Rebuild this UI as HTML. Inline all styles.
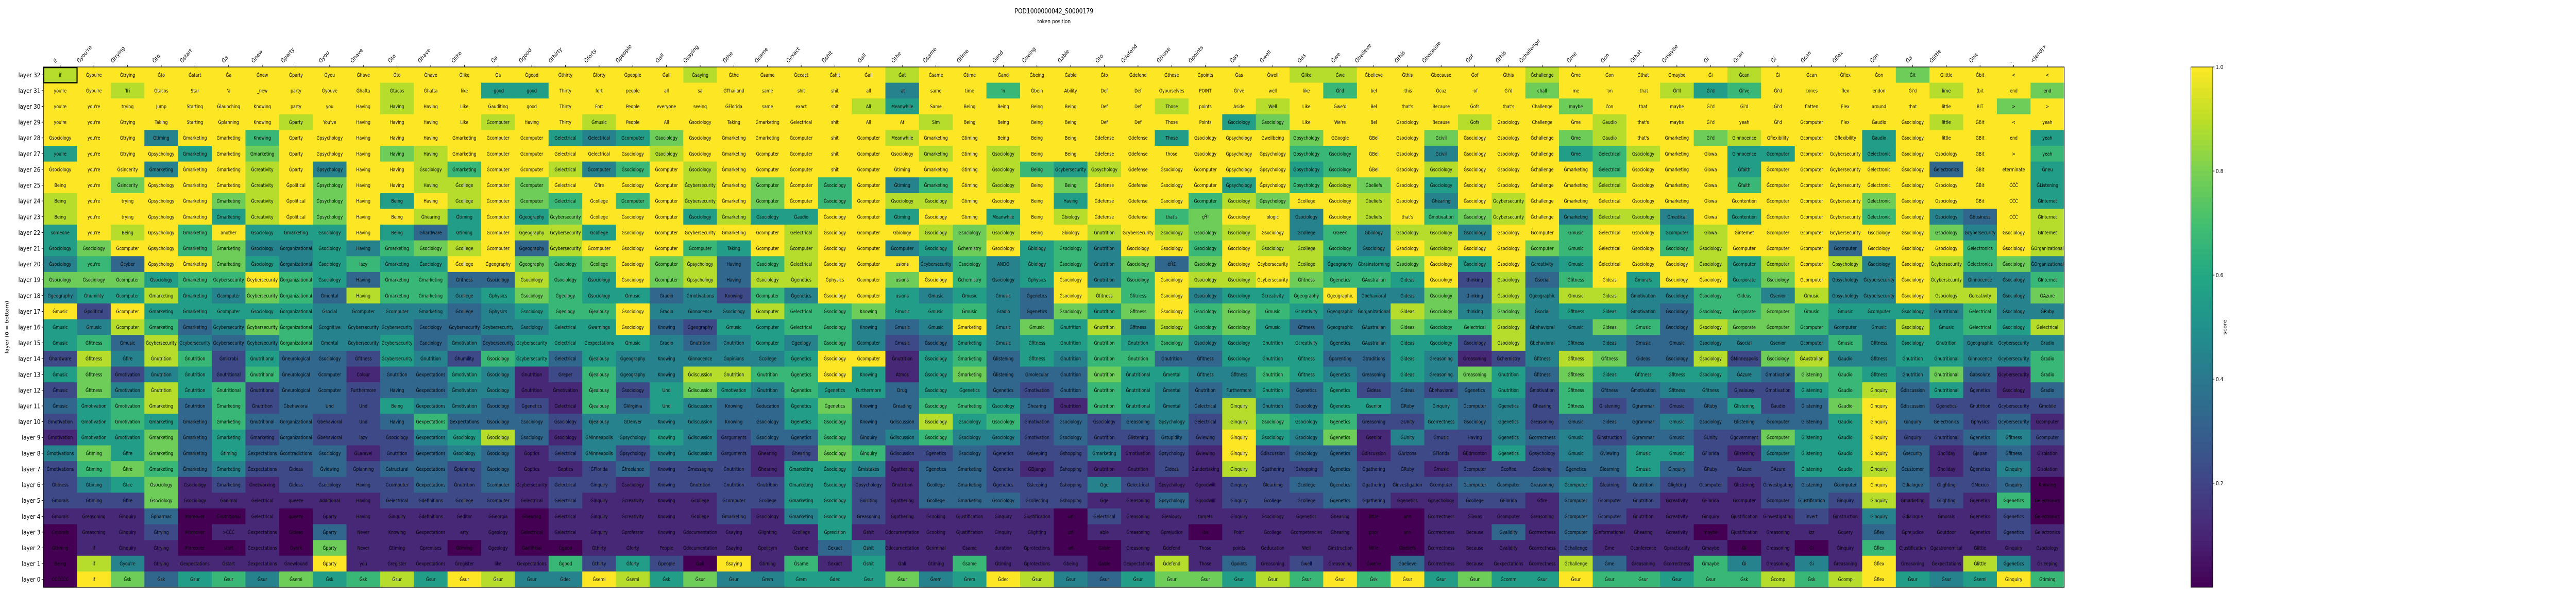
<!DOCTYPE html>
<html><head><meta charset="utf-8"><style>
html,body{margin:0;padding:0;background:#fff;overflow:hidden;width:100vw;height:100vh;}
svg{display:block;width:100vw;height:100vh;font-family:"DejaVu Sans","Liberation Sans",sans-serif;}
</style></head><body>
<svg id="chart" viewBox="0 0 6000 1155" preserveAspectRatio="none" xmlns="http://www.w3.org/2000/svg">
<rect width="6000" height="1155" fill="#fff"/>
<text x="2455" y="26" text-anchor="middle" font-size="13">POD1000000042_S0000179</text>
<text x="2455" y="45" text-anchor="middle" font-size="11">token position</text>
<text x="20" y="635" text-anchor="middle" font-size="11" transform="rotate(-90 20 635)">layer (0 = bottom)</text>
<g id="cells"></g>
<g id="xticks"></g>
<g id="yticks"></g>
<g id="cbar"></g>
</svg>
<script>
const xLabels = ["if","Ġyou're","Ġtrying","Ġto","Ġstart","Ġa","Ġnew","Ġparty","Ġyou","Ġhave","Ġto","Ġhave","Ġlike","Ġa","Ġgood","Ġthirty","Ġforty","Ġpeople","Ġall","Ġsaying","Ġthe","Ġsame","Ġexact","Ġshit","Ġall","Ġthe","Ġsame","Ġtime","Ġand","Ġbeing","Ġable","Ġto","Ġdefend","Ġthose","Ġpoints","Ġas","Ġwell","Ġas","Ġwe","Ġbelieve","Ġthis","Ġbecause","Ġof","Ġthis","Ġchallenge","Ġme","Ġon","Ġthat","Ġmaybe","Ġi","Ġcan","Ġi","Ġcan","Ġflex","Ġon","Ġa","Ġlittle","Ġbit",".","<|end|>"];
const layerLabels = [];
for (let l = 32; l >= 0; l--) layerLabels.push("layer " + l);
const colorbarTicks = [0.2, 0.4, 0.6, 0.8, 1.0];
const highlightCell = [0, 0];
const cellTokens = [
"if|you're|you're|you're|Ġsociology|you're|Ġsociology|Being|Being|Being|someone|Ġsociology|Ġsociology|Ġsociology|Ġgeography|Ġmusic|Ġmusic|Ġmusic|Ġhardware|Ġmusic|Ġmusic|Ġmusic|Ġmotivation|Ġmotivation|Ġmotivations|Ġmotivations|Ġfitness|Ġmorals|Ġmorals|Ġmorals|Ġtiming|Being|ĊĊĊĊĊĊ",
"Ġyou're|Ġyou're|you're|you're|you're|you're|you're|you're|you're|you're|you're|Ġsociology|you're|Ġsociology|Ġhumility|Ġpolitical|Ġmusic|Ġfitness|Ġfitness|Ġfitness|Ġfitness|Ġmotivation|Ġmotivation|Ġmotivation|Ġtiming|Ġtiming|Ġtiming|Ġtiming|Ġreasoning|Ġreasoning|if|if|if",
"Ġtrying|Tri|trying|Ġtrying|Ġtrying|Ġtrying|Ġsincerity|Ġsincerity|trying|trying|Being|Ġcomputer|Ġcyber|Ġcomputer|Ġcomputer|Ġcomputer|Ġcomputer|Ġmusic|Ġfire|Ġmotivation|Ġmotivation|Ġmotivation|Ġmotivation|Ġmotivation|Ġfire|Ġfire|Ġfire|Ġfire|Ġinquiry|Ġinquiry|Ġinquiry|Ġyou're|Ġsk",
"Ġto|Ġtacos|Jump|Taking|Ġtiming|Ġpsychology|Ġmarketing|Ġpsychology|Ġpsychology|Ġpsychology|Ġpsychology|Ġpsychology|Ġpsychology|Ġsociology|Ġmarketing|Ġmarketing|Ġmarketing|Ġcybersecurity|Ġnutrition|Ġnutrition|Ġnutrition|Ġmarketing|Ġmarketing|Ġmarketing|Ġmarketing|Ġmarketing|Ġsociology|Ġsociology|Ġpharmac|Ġtrying|Ġtrying|Ġtrying|Ġsk",
"Ġstart|Star|Starting|Starting|Ġmarketing|Ġmarketing|Ġmarketing|Ġmarketing|Ġmarketing|Ġmarketing|Ġmarketing|Ġmarketing|Ġmarketing|Ġmarketing|Ġmarketing|Ġmarketing|Ġmarketing|Ġcybersecurity|Ġnutrition|Ġnutrition|Ġnutrition|Ġnutrition|Ġmarketing|Ġmarketing|Ġmarketing|Ġmarketing|Ġsociology|Ġsociology|Moreover|Moreover|Moreover|Ġexpectations|Ġsur",
"Ġa|'a|Ġlaunching|Ġplanning|Ġmarketing|Ġmarketing|Ġmarketing|Ġmarketing|Ġmarketing|Ġmarketing|another|Ġmarketing|Ġmarketing|Ġcybersecurity|Ġcomputer|Ġcomputer|Ġcybersecurity|Ġcybersecurity|Ġmicrobi|Ġnutritional|Ġnutritional|Ġmarketing|Ġmarketing|Ġmarketing|Ġtiming|Ġmarketing|Ġmarketing|Ġanimal|Ġnutritional|>ĊĊĊ|start|Ġstart|Ġsur",
"Ġnew|_new|Knowing|Knowing|Knowing|Ġmarketing|Ġcreativity|Ġcreativity|Ġcreativity|Ġcreativity|Ġsociology|Ġsociology|Ġsociology|Ġcybersecurity|Ġcybersecurity|Ġsociology|Ġcybersecurity|Ġcybersecurity|Ġnutritional|Ġnutritional|Ġnutritional|Ġnutrition|Ġnutritional|Ġmarketing|Ġexpectations|Ġexpectations|Ġnetworking|Ġelectrical|Ġelectrical|Ġexpectations|Ġexpectations|Ġexpectations|Ġsur",
"Ġparty|party|party|Ġparty|Ġparty|Ġparty|Ġparty|Ġpolitical|Ġpolitical|Ġpolitical|Ġmarketing|Ġorganizational|Ġorganizational|Ġorganizational|Ġorganizational|Ġorganizational|Ġorganizational|Ġorganizational|Ġneurological|Ġneurological|Ġneurological|Ġbehavioral|Ġorganizational|Ġorganizational|Ġcontradictions|Ġideas|Ġideas|queeze|queeze|Ġideas|Ġyork|Ġnewfound|Ġsemi",
"Ġyou|Ġyouve|you|You've|Ġpsychology|Ġpsychology|Ġpsychology|Ġpsychology|Ġpsychology|Ġpsychology|Ġsociology|Ġsociology|Ġsociology|Ġsociology|Ġmental|Ġsocial|Ġcognitive|Ġmental|Ġsociology|Ġcomputer|Ġcomputer|Und|Ġbehavioral|Ġbehavioral|Ġsociology|Ġviewing|Ġsociology|Additional|Ġparty|Ġparty|Ġparty|Ġparty|Ġsk",
"Ġhave|Ġhafta|Having|Having|Having|Having|Having|Having|Having|Having|Having|Having|lazy|Having|Having|Ġcomputer|Ġcybersecurity|Ġcybersecurity|Ġfitness|Colour|Furthermore|Und|Und|lazy|ĠLaravel|Ġplanning|Having|Having|Having|Never|Never|you|Ġsk",
"Ġto|Ġtacos|Having|Having|Having|Having|Having|Having|Being|Being|Being|Ġmarketing|Ġmarketing|Ġmarketing|Ġmarketing|Ġcomputer|Ġcybersecurity|Ġcybersecurity|Ġcybersecurity|Ġnutrition|Having|Being|Having|Ġsociology|Ġnutrition|Ġstructural|Ġcomputer|Ġelectrical|Ġinquiry|Knowing|Ġtiming|Ġregister|Ġsur",
"Ġhave|Ġhafta|Having|Having|Having|Having|Ġsociology|Having|Having|Ġhearing|Ġhardware|Ġsociology|Ġsociology|Ġmarketing|Ġmarketing|Ġmarketing|Ġsociology|Ġsociology|Ġnutrition|Ġexpectations|Ġexpectations|Ġexpectations|Ġexpectations|Ġexpectations|Ġexpectations|Ġexpectations|Ġexpectations|Ġdefinitions|Ġdefinitions|Ġexpectations|Ġpremises|Ġexpectations|Ġsur",
"Ġlike|like|Like|Like|Ġmarketing|Ġmarketing|Ġmarketing|Ġcollege|Ġcollege|Ġtiming|Ġtiming|Ġcollege|Ġcollege|Ġfitness|Ġcollege|Ġcollege|Ġcybersecurity|Ġmotivation|Ġhumility|Ġmotivation|Ġmotivation|Ġmotivation|Ġexpectations|Ġsociology|Ġsociology|Ġplanning|Ġnutrition|Ġcollege|Ġeditor|arty|Ġtiming|Ġregister|Ġsur",
"Ġa|-good|Ġauditing|Ġcomputer|Ġcomputer|Ġcomputer|Ġcomputer|Ġcomputer|Ġcomputer|Ġcomputer|Ġcomputer|Ġcomputer|Ġgeography|Ġsociology|Ġphysics|Ġphysics|Ġcybersecurity|Ġcybersecurity|Ġsociology|Ġsociology|Ġsociology|Ġsociology|Ġsociology|Ġsociology|Ġsociology|Ġsociology|Ġcomputer|Ġcomputer|ĠGeorgia|Ġgeology|Ġgeology|like|Ġsur",
"Ġgood|good|good|Having|Ġcomputer|Ġcomputer|Ġcomputer|Ġcomputer|Ġcomputer|Ġgeography|Ġgeography|Ġgeography|Ġgeography|Ġsociology|Ġsociology|Ġsociology|Ġsociology|Ġcybersecurity|Ġcybersecurity|Ġnutrition|Ġnutrition|Ġgenetics|Ġsociology|Ġsociology|Ġoptics|Ġoptics|Ġcybersecurity|Ġelectrical|Ġhearing|Ġelectrical|Ġartificial|Ġexpectations|Ġsur",
"Ġthirty|Thirty|Thirty|Thirty|Ġelectrical|Ġelectrical|Ġelectrical|Ġelectrical|Ġelectrical|Ġcybersecurity|Ġcybersecurity|Ġcybersecurity|Ġsociology|Ġsociology|Ġgeology|Ġgeology|Ġelectrical|Ġelectrical|Ġelectrical|Greper|Ġmotivation|Ġelectrical|Ġsociology|Ġsociology|Ġelectrical|Ġoptics|Ġelectrical|Ġelectrical|Ġelectrical|Ġelectrical|Ġgood|Ġgood|Ġdec",
"Ġforty|fort|Fort|Ġmusic|Ġelectrical|Ġelectrical|Ġcomputer|Ġfire|Ġcollege|Ġcollege|Ġcollege|Ġcomputer|Ġcollege|Ġsociology|Ġsociology|Ġjealousy|Ġwarnings|Ġexpectations|Ġjealousy|Ġjealousy|Ġjealousy|Ġjealousy|Ġjealousy|ĠMinneapolis|ĠMinneapolis|ĠFlorida|Ġinquiry|Ġinquiry|Ġinquiry|Ġinquiry|Ġthirty|Ġthirty|Ġsemi",
"Ġpeople|people|People|People|Ġcomputer|Ġsociology|Ġsociology|Ġsociology|Ġcomputer|Ġsociology|Ġsociology|Ġsociology|Ġsociology|Ġsociology|Ġmusic|Ġsociology|Ġsociology|Ġmusic|Ġgeography|Ġgeography|Ġsociology|ĠVirginia|ĠDenver|Ġpsychology|Ġpsychology|Ġfreelance|Ġsociology|Ġcreativity|Ġcreativity|Ġprofessor|Ġforty|Ġforty|Ġsemi",
"Ġall|all|everyone|All|Ġsociology|Ġsociology|Ġcomputer|Ġcomputer|Ġcomputer|Ġcomputer|Ġcomputer|Ġcomputer|Ġcomputer|Ġcomputer|Ġradio|Ġradio|Knowing|Ġradio|Knowing|Knowing|Und|Und|Knowing|Knowing|Knowing|Knowing|Knowing|Knowing|Knowing|Knowing|People|Ġpeople|Ġsk",
"Ġsaying|sa|seeing|Ġsociology|Ġsociology|Ġsociology|Ġsociology|Ġcybersecurity|Ġcybersecurity|Ġsociology|Ġcybersecurity|Ġcomputer|Ġpsychology|Ġpsychology|Ġmotivations|Ġinnocence|Ġgeography|Ġnutrition|Ġinnocence|Ġdiscussion|Ġdiscussion|Ġdiscussion|Ġdiscussion|Ġdiscussion|Ġdiscussion|Ġmessaging|Ġnutrition|Ġcollege|Ġcollege|Ġdocumentation|Ġdocumentation|Ġall|Ġsur",
"Ġthe|ĠThailand|ĠFlorida|Taking|Ġmarketing|Ġmarketing|Ġmarketing|Ġmarketing|Ġmarketing|Ġmarketing|Ġmarketing|Taking|Having|Having|Knowing|Ġsociology|Ġmusic|Ġnutrition|Ġopinions|Ġnutrition|Ġmotivation|Knowing|Knowing|Ġarguments|Ġarguments|Ġnutrition|Ġnutrition|Ġcomputer|Ġmarketing|Ġsaying|Ġsaying|Ġsaying|Ġsur",
"Ġsame|same|same|Ġmarketing|Ġmarketing|Ġcomputer|Ġcomputer|Ġcomputer|Ġcomputer|Ġsociology|Ġcomputer|Ġcomputer|Ġsociology|Ġsociology|Ġcomputer|Ġcomputer|Ġcomputer|Ġcomputer|Ġcollege|Ġnutrition|Ġnutrition|Ġeducation|Ġsociology|Ġsociology|Ġhearing|Ġhearing|Ġnutrition|Ġcollege|Ġsociology|Ġlighting|Ġpolicym|Ġtiming|Ġrem",
"Ġexact|shit|exact|Ġelectrical|Ġcomputer|Ġcomputer|Ġcomputer|Ġcomputer|Ġcomputer|Ġaudio|Ġelectrical|Ġcomputer|Ġelectrical|Ġgenetics|Ġgenetics|Ġelectrical|Ġelectrical|Ġgeology|Ġgenetics|Ġgenetics|Ġgenetics|Ġgenetics|Ġgenetics|Ġgenetics|Ġhearing|Ġmarketing|Ġmarketing|Ġmarketing|Ġmarketing|Ġcollege|Ġsame|Ġsame|Ġrem",
"Ġshit|shit|shit|shit|shit|shit|shit|Ġsociology|Ġsociology|Ġsociology|Ġsociology|Ġsociology|Ġsociology|Ġphysics|Ġsociology|Ġsociology|Ġsociology|Ġsociology|Ġsociology|Ġsociology|Ġgenetics|Ġgenetics|Ġsociology|Ġsociology|Ġsociology|Ġsociology|Ġsociology|Ġsociology|Ġsociology|Ġprecision|Ġexact|Ġexact|Ġdec",
"Ġall|all|All|All|Ġcomputer|Ġcomputer|Ġcomputer|Ġcomputer|Ġcomputer|Ġcomputer|Ġcomputer|Ġcomputer|Ġcomputer|Ġcomputer|Ġcomputer|Knowing|Knowing|Ġcomputer|Ġcomputer|Knowing|Furthermore|Knowing|Knowing|Ġinquiry|Ġinquiry|Ġmistakes|Ġpsychology|Ġvisiting|Greasoning|Ġshit|Ġshit|Ġshit|Ġsur",
"Ġat|-at|Meanwhile|At|Meanwhile|Ġsociology|Ġtiming|Ġtiming|Ġsociology|Ġtiming|Ġbiology|Ġcomputer|usions|usions|usions|Ġmusic|Ġmusic|Ġmusic|Ġnutrition|Atmos|Drug|Ġreading|Ġdiscussion|Ġdiscussion|Ġdiscussion|Ġgathering|Ġnutrition|Ġgathering|Ġgathering|Ġdocumentation|Ġdocumentation|Ġall|Ġsur",
"Ġsame|same|Same|Sim|Ġmarketing|Ġmarketing|Ġmarketing|Ġmarketing|Ġsociology|Ġsociology|Ġsociology|Ġsociology|Ġcybersecurity|Ġsociology|Ġmusic|Ġmusic|Ġmusic|Ġsociology|Ġsociology|Ġsociology|Ġsociology|Ġsociology|Ġsociology|Ġsociology|Ġgenetics|Ġgenetics|Ġcollege|Ġcollege|Ġcooking|Ġcooking|Ġcriminal|Ġtiming|Ġrem",
"Ġtime|time|Being|Being|Ġtiming|Ġtiming|Ġtiming|Ġtiming|Ġtiming|Ġtiming|Ġsociology|Ġchemistry|Ġsociology|Ġchemistry|Ġmusic|Ġmusic|Ġmarketing|Ġmarketing|Ġmarketing|Ġmarketing|Ġgenetics|Ġmarketing|Ġsociology|Ġsociology|Ġsociology|Ġmarketing|Ġmarketing|Ġmarketing|Ġjustification|Ġjustification|Ġsame|Ġsame|Ġrem",
"Ġand|'n|Being|Being|Being|Ġsociology|Ġsociology|Ġsociology|Ġsociology|Meanwhile|Ġsociology|Ġsociology|ANDO|Ġsociology|Ġmusic|Ġradio|Ġmusic|Ġmusic|Ġlistening|Ġlistening|Ġgenetics|Ġsociology|Ġsociology|Ġsociology|Ġgenetics|Ġgenetics|Ġgenetics|Ġsociology|Ġinquiry|Ġinquiry|duration|Ġtiming|Ġdec",
"Ġbeing|Ġbein|Being|Being|Being|Being|Being|Being|Being|Being|Being|Ġbiology|Ġbiology|Ġphysics|Ġgenetics|Ġgenetics|Ġmusic|Ġfitness|Ġfitness|Ġmolecular|Ġmotivation|Ġhearing|Ġmotivation|Ġmotivation|Ġsleeping|ĠDjango|Ġsleeping|Ġcollecting|Ġjustification|Ġlighting|Ġprotections|Ġprotections|Ġsur",
"Ġable|Ability|Being|Being|Being|Being|Ġcybersecurity|Being|Having|Ġbiology|Ġbiology|Ġsociology|Ġsociology|Ġsociology|Ġsociology|Ġsociology|Ġnutrition|Ġnutrition|Ġnutrition|Ġnutrition|Ġnutrition|Ġnutrition|Ġsociology|Ġsociology|Ġshopping|Ġshopping|Ġshopping|Ġshopping|url|url|url|Ġbeing|Ġsur",
"Ġto|Def|Def|Def|Ġdefense|Ġdefense|Ġpsychology|Ġdefense|Ġdefense|Ġdefense|Ġnutrition|Ġnutrition|Ġnutrition|Ġnutrition|Ġfitness|Ġnutrition|Ġnutrition|Ġnutrition|Ġnutrition|Ġnutrition|Ġnutrition|Ġnutrition|Ġsociology|Ġnutrition|Ġmarketing|Ġnutrition|Ġge|Ġge|Ġelectrical|able|Ġable|Ġable|Ġsur",
"Ġdefend|Def|Def|Def|Ġdefense|Ġdefense|Ġdefense|Ġdefense|Ġdefense|Ġdefense|Ġcybersecurity|Ġsociology|Ġsociology|Ġsociology|Ġfitness|Ġfitness|Ġfitness|Ġnutrition|Ġnutrition|Ġnutritional|Ġnutritional|Ġnutritional|Ġreasoning|Ġlistening|Ġmotivation|Ġnutrition|Ġelectrical|Ġreasoning|Ġreasoning|Ġreasoning|Ġreasoning|Ġexpectations|Ġsur",
"Ġthose|Ġyourselves|Those|Those|Those|those|Ġsociology|Ġsociology|Ġsociology|that's|Ġsociology|Ġsociology|éĤ£|Ġsociology|Ġsociology|Ġsociology|Ġsociology|Ġsociology|Ġnutrition|Ġmental|Ġmental|Ġmental|Ġpsychology|Ġstupidity|Ġpsychology|Ġideas|Ġpsychology|Ġpsychology|Ġjealousy|Ġprejudice|Ġdefend|Ġdefend|Ġsur",
"Ġpoints|POINT|points|Points|Ġsociology|Ġsociology|Ġcomputer|Ġcomputer|Ġcomputer|çĤ¹|Ġsociology|Ġsociology|Ġsociology|Ġsociology|Ġsociology|Ġsociology|Ġsociology|Ġsociology|Ġfitness|Ġfitness|Ġnutrition|Ġelectrical|Ġelectrical|Ġviewing|Ġviewing|Ġundertaking|Ġgoodwill|Ġgoodwill|targets|ibs|Those|Those|Ġsur",
"Ġas|Ġi've|Aside|Ġsociology|Ġpsychology|Ġpsychology|Ġpsychology|Ġpsychology|Ġsociology|Ġsociology|Ġsociology|Ġsociology|Ġsociology|Ġsociology|Ġsociology|Ġsociology|Ġsociology|Ġsociology|Ġsociology|Ġfitness|Furthermore|Ġinquiry|Ġinquiry|Ġinquiry|Ġinquiry|Ġinquiry|Ġinquiry|Ġinquiry|Ġinquiry|Point|points|Ġpoints|Ġsur",
"Ġwell|well|Well|Ġsociology|Ġwellbeing|Ġpsychology|Ġpsychology|Ġpsychology|Ġpsychology|ologic|Ġsociology|Ġsociology|Ġcybersecurity|Ġcybersecurity|Ġcreativity|Ġmusic|Ġmusic|Ġnutrition|Ġnutrition|Ġnutrition|Ġnutrition|Ġnutrition|Ġsociology|Ġsociology|Ġdiscussion|Ġgathering|Ġlearning|Ġcollege|Ġsociology|Ġcollege|Ġeducation|Ġreasoning|Ġsur",
"Ġlike|like|Like|Like|Ġpsychology|Ġpsychology|Ġpsychology|Ġpsychology|Ġcollege|Ġsociology|Ġcollege|Ġcollege|Ġcollege|Ġfitness|Ġgeography|Ġcreativity|Ġfitness|Ġcreativity|Ġfitness|Ġfitness|Ġgenetics|Ġsociology|Ġsociology|Ġsociology|Ġsociology|Ġshopping|Ġcollege|Ġcollege|Ġgenetics|Ġcompetencies|Well|Ġwell|Ġsur",
"Ġwe|Ġi'd|Ġwe'd|We're|ĠGoogle|Ġsociology|Ġsociology|Ġsociology|Ġsociology|Ġsociology|ĠGeek|Ġsociology|Ġgeography|Ġgenetics|Ġgeographic|Ġgeographic|Ġgeographic|Ġgenetics|Ġparenting|Ġgenetics|Ġgenetics|Ġgenetics|Ġgenetics|Ġgenetics|Ġgenetics|Ġgenetics|Ġgenetics|Ġgenetics|Ġhearing|Ġhearing|Ġinstruction|Ġreasoning|Ġsur",
"Ġbelieve|bel|Bel|Bel|ĠBel|ĠBel|ĠBel|Ġbeliefs|Ġbeliefs|Ġbeliefs|Ġbiology|Ġsociology|Ġbrainstorming|ĠAustralian|Ġbehavioral|Ġorganizational|ĠAustralian|ĠAustralian|Ġtraditions|Ġreasoning|Ġideas|Ġsenior|Ġreasoning|Ġsenior|Ġdiscussion|Ġgathering|Ġgathering|Ġgathering|little|poor|little|Ġwe're|Ġsk",
"Ġthis|-this|that's|Ġsociology|Ġsociology|Ġsociology|Ġsociology|Ġsociology|Ġsociology|that's|Ġsociology|Ġsociology|Ġsociology|Ġideas|Ġideas|Ġideas|Ġideas|Ġideas|Ġideas|Ġideas|Ġideas|ĠRuby|ĠUnity|ĠUnity|ĠArizona|ĠRuby|Ġinvestigation|Ġgenetics|ann|ann|Ġbeliefs|Ġbelieve|Ġsur",
"Ġbecause|Ġcuz|Because|Because|Ġcivil|Ġcivil|Ġsociology|Ġsociology|Ġhearing|Ġmotivation|Ġsociology|Ġsociology|Ġsociology|Ġsociology|Ġsociology|Ġsociology|Ġsociology|Ġsociology|Ġreasoning|Ġreasoning|Ġbehavioral|Ġinquiry|Ġcorrectness|Ġmusic|ĠFlorida|Ġmusic|Ġcomputer|Ġpsychology|Ġcorrectness|Ġcorrectness|Ġcorrectness|Ġcorrectness|Ġsur",
"Ġof|-of|Ġofs|Ġofs|Ġsociology|Ġsociology|Ġsociology|Ġsociology|Ġsociology|Ġsociology|Ġsociology|Ġsociology|Ġsociology|thinking|thinking|thinking|Ġelectrical|Ġsociology|Ġreasoning|Ġreasoning|Ġgenetics|Ġcomputer|Ġsociology|Having|ĠEdmonton|Ġcomputer|Ġcomputer|Ġcollege|ĠTexas|Because|Because|Because|Ġsur",
"Ġthis|Ġi'd|that's|Ġsociology|Ġsociology|Ġsociology|Ġsociology|Ġsociology|Ġcybersecurity|Ġcybersecurity|Ġsociology|Ġsociology|Ġsociology|Ġsociology|Ġsociology|Ġsociology|Ġsociology|Ġsociology|Ġchemistry|Ġnutrition|Ġnutrition|Ġgenetics|Ġgenetics|Ġgenetics|Ġgenetics|Ġcoffee|Ġcomputer|ĠFlorida|Ġcomputer|Ġvalidity|Ġvalidity|Ġexpectations|Ġcomm",
"Ġchallenge|chall|Challenge|Challenge|Ġchallenge|Ġchallenge|Ġchallenge|Ġchallenge|Ġchallenge|Ġchallenge|Ġcomputer|Ġcomputer|Ġcreativity|Ġsocial|Ġgeographic|Ġsocial|Ġbehavioral|Ġbehavioral|Ġfitness|Ġfitness|Ġmotivation|Ġhearing|Ġreasoning|Ġcorrectness|Ġpsychology|Ġcooking|Ġreasoning|Ġfire|Ġreasoning|Ġcorrectness|Ġcorrectness|Ġcorrectness|Ġsur",
"Ġme|me|maybe|Ġme|Ġme|Ġme|Ġmarketing|Ġmarketing|Ġmarketing|Ġmarketing|Ġmusic|Ġmusic|Ġmusic|Ġfitness|Ġmusic|Ġfitness|Ġmusic|Ġfitness|Ġfitness|Ġfitness|Ġfitness|Ġfitness|Ġmusic|Ġmusic|Ġmusic|Ġgenetics|Ġcomputer|Ġcomputer|Ġcomputer|Ġcomputer|Ġchallenge|Ġchallenge|Ġsur",
"Ġon|'on|ĉon|Ġaudio|Ġaudio|Ġelectrical|Ġelectrical|Ġelectrical|Ġelectrical|Ġelectrical|Ġelectrical|Ġelectrical|Ġelectrical|Ġideas|Ġideas|Ġideas|Ġideas|Ġideas|Ġfitness|Ġideas|Ġfitness|Ġlistening|Ġideas|Ġinstruction|Ġviewing|Ġlearning|Ġlearning|Ġcomputer|Ġcomputer|Ġinformational|Ġme|Ġme|Ġsur",
"Ġthat|-that|that|that's|that's|Ġsociology|Ġsociology|Ġsociology|Ġsociology|Ġsociology|Ġsociology|Ġsociology|Ġsociology|Ġmorals|Ġmotivation|Ġmotivation|Ġmusic|Ġmusic|Ġideas|Ġfitness|Ġmotivation|Ġgrammar|Ġgrammar|Ġgrammar|Ġmusic|Ġmusic|Ġnutrition|Ġnutrition|Ġnutrition|Ġhearing|Ġconference|Ġreasoning|Ġsur",
"Ġmaybe|Ġi'll|maybe|maybe|Ġmarketing|Ġmarketing|Ġmarketing|Ġmarketing|Ġmarketing|Ġmedical|Ġcomputer|Ġsociology|Ġsociology|Ġsociology|Ġsociology|Ġsociology|Ġsociology|Ġmusic|Ġsociology|Ġfitness|Ġfitness|Ġmusic|Ġmusic|Ġmusic|Ġmusic|Ġinquiry|Ġlighting|Ġcreativity|Ġcreativity|Ġcreativity|Ġpracticality|Ġcorrectness|Ġsur",
"Ġi|Ġi'd|Ġi'd|Ġi'd|Ġi'd|Ġlowa|Ġlowa|Ġlowa|Ġlowa|Ġlowa|Ġlowa|Ġsociology|Ġsociology|Ġsociology|Ġsociology|Ġsociology|Ġsociology|Ġsociology|Ġsociology|Ġsociology|Ġfitness|ĠRuby|Ġsociology|ĠUnity|ĠFlorida|ĠRuby|Ġcomputer|ĠFlorida|Ġinquiry|maybe|Ġmaybe|Ġmaybe|Ġsur",
"Ġcan|Ġi've|Ġi'd|yeah|Ġinnocence|Ġinnocence|Ġfaith|Ġfaith|Ġcontention|Ġcontention|Ġinternet|Ġcomputer|Ġcomputer|Ġcorporate|Ġideas|Ġcorporate|Ġcorporate|Ġsocial|ĠMinneapolis|ĠAzure|Ġjealousy|Ġlistening|Ġlistening|Ġgovernment|Ġlistening|ĠAzure|Ġlistening|Ġcomputer|Ġjustification|Ġjustification|Ġi|Ġi|Ġsk",
"Ġi|Ġi'd|Ġi'd|Ġi'd|Ġflexibility|Ġcomputer|Ġcomputer|Ġcomputer|Ġcomputer|Ġcomputer|Ġcomputer|Ġcomputer|Ġcomputer|Ġsociology|Ġsenior|Ġcomputer|Ġcomputer|Ġsenior|Ġsociology|Ġmotivation|Ġmotivation|Ġaudio|Ġcomputer|Ġcomputer|Ġcomputer|ĠAzure|Ġinvestigating|Ġcomputer|Ġinvestigating|Ġreasoning|Ġreasoning|Ġreasoning|Ġcomp",
"Ġcan|cones|flatten|Ġcomputer|Ġcomputer|Ġcomputer|Ġcomputer|Ġcomputer|Ġcomputer|Ġcomputer|Ġcomputer|Ġcomputer|Ġcomputer|Ġcomputer|Ġmusic|Ġmusic|Ġcomputer|Ġcomputer|ĠAustralian|Ġlistening|Ġlistening|Ġlistening|Ġlistening|Ġlistening|Ġlistening|Ġlistening|Ġlistening|Ġjustification|invert|izz|Ġi|Ġi|Ġsk",
"Ġflex|flex|Flex|Flex|Ġflexibility|Ġcybersecurity|Ġcybersecurity|Ġcybersecurity|Ġcybersecurity|Ġcybersecurity|Ġcybersecurity|Ġcomputer|Ġpsychology|Ġpsychology|Ġpsychology|Ġmusic|Ġcomputer|Ġmusic|Ġaudio|Ġaudio|Ġaudio|Ġaudio|Ġaudio|Ġaudio|Ġaudio|Ġaudio|Ġcomputer|Ġinquiry|Ġinstruction|Ġquery|Ġinquiry|Ġreasoning|Ġcomp",
"Ġon|endon|around|Ġaudio|Ġaudio|Ġelectronic|Ġelectronic|Ġelectronic|Ġelectronic|Ġelectronic|Ġsociology|Ġsociology|Ġsociology|Ġcybersecurity|Ġcybersecurity|Ġcomputer|Ġmusic|Ġfitness|Ġfitness|Ġfitness|Ġinquiry|Ġinquiry|Ġinquiry|Ġinquiry|Ġinquiry|Ġinquiry|Ġinquiry|Ġinquiry|Ġinquiry|Ġflex|Ġflex|Ġflex|Ġflex",
"Ġit|Ġi'd|that|Ġsociology|Ġsociology|Ġsociology|Ġsociology|Ġsociology|Ġsociology|Ġsociology|Ġsociology|Ġsociology|Ġsociology|Ġsociology|Ġsociology|Ġsociology|Ġsociology|Ġsociology|Ġnutrition|Ġnutrition|Ġdiscussion|Ġdiscussion|Ġinquiry|Ġinquiry|Ġsecurity|Ġcustomer|Ġdialogue|Ġmarketing|Ġdialogue|Ġprejudice|Ġjustification|Ġreasoning|Ġsur",
"Ġlittle|lime|little|little|little|Ġsociology|Ġelectronics|Ġsociology|Ġsociology|Ġsociology|Ġsociology|Ġsociology|Ġcybersecurity|Ġcybersecurity|Ġsociology|Ġnutritional|Ġmusic|Ġnutrition|Ġnutritional|Ġnutritional|Ġnutritional|Ġgenetics|Ġelectronics|Ġnutritional|Ġholiday|Ġholiday|Ġlighting|Ġlighting|Ġmorals|Ġoutdoor|Ġgastronomical|Ġexpectations|Ġsur",
"Ġbit|(bit|BIT|ĠBit|ĠBit|ĠBit|ĠBit|ĠBit|ĠBit|Ġbusiness|Ġcybersecurity|Ġelectronics|Ġelectronics|Ġinnocence|Ġcreativity|Ġelectrical|Ġelectrical|Ġgeographic|Ġinnocence|Ġabsolute|Ġgenetics|Ġnutrition|Ġphysics|Ġgenetics|ĠJapan|Ġgenetics|ĠMexico|Ġgenetics|Ġgenetics|Ġgenetics|Ġlittle|Ġlittle|Ġsemi",
"<|end|>|<|end|>|eterminate|ĊĊĊ|ĊĊĊ|ĊĊĊ|Ġsociology|Ġsociology|Ġsociology|Ġsociology|Ġsociology|Ġsociology|Ġsociology|Ġcybersecurity|Ġcybersecurity|Ġcybersecurity|Ġsociology|Ġcybersecurity|Ġcybersecurity|Ġfitness|Ġfitness|Ġinquiry|Ġinquiry|Ġgenetics|Ġgenetics|Ġgenetics|Ġinquiry|Ġgenetics|Ġinquiry|Ġinquiry|Ġbit|Ġbit|Ġdec",
"<|end|>|yeah|yeah|yeah|Ġneu|ĠListening|ĠInternet|ĠInternet|ĠInternet|ĠOrganizational|ĠOrganizational|ĠInternet|ĠAzure|ĠRuby|Ġelectrical|Ġradio|Ġradio|Ġradio|Ġradio|Ġmobile|Ġcomputer|Ġcomputer|Ġisolation|Ġisolation|Knowing|Ġelectronics|Ġelectronics|Ġelectronics|Ġsociology|Ġsleeping|Ġtiming|Ġtiming|Ġsur"
];
const cellScores = [
"899995998855474955252321422210000","999999999997675246877555764211189","989999979989375983424665575211147",
"999949499999958568848857767732113","999995999966965534655333331100015","999999997597764543226665542101016",
"999967888854597574562232321111114","999899999954466566333333322100017","999999477755553444333322332113795",
"999999999994638444212222122111116","988997995956566445533532232211118","999998889837566433433464333211115",
"999999688558934334254435422211019","959899999999935443644338333211118","959999977583787545511233111100014",
"999959896788666655321121212211064","999849499959755655566644422111129","999959696999995995442344231111158",
"999978999999773434445545422111125","899999888596884423487444422111107","999999999895332454485332222221194",
"999999977599686855464333112211114","999999999588884664566553255541165","999999966999999666995766755555315",
"998999999999999744955333642221455","845989948594975532113334211111117","999898968985494543555686233311114",
"999999999977665695675654333311165","969998889589444444333564222311119","999999699995553375532322212211118",
"999999575896699755433133222200014","999999899984448586676622414121003","999999999999766745655532112111115",
"998959999689399986354443221311187","999999996776784664343322111110117","999599958989985775544889982211135",
"998799997998995655565465222211118","899976569448876535553354323211126","869996689966569444345567333311119",
"999999978844564444332521122200006","999999999989754875553324222100039","999974854688997765442442212111115",
"999899999749523462173332123211117","999999998899988788255444523213115","879999999997434444432223223111115",
"997975999466568544876634434333289","999886689899998574753232332221136","999998999899954463353333553211116",
"989999999456994333354243532111115","959979999988896684854332222110166","869985569599556674242532121111046",
"999995999999874774732237422211118","999999999999998664875335553321046","999999999993844546466755553211118",
"999955997699444544458999989843699","799999999999999585543332333111115","989899399479888455575232112211114",
"999999999346648664432223222111185","997999999999744454411234343622149","979956555888467484663212110001116"
];

const NS = "http://www.w3.org/2000/svg";
const plotL = 101, plotR = 4808, plotT = 130, plotB = 1140;
const nCols = xLabels.length, nRows = layerLabels.length;
const colW = (plotR - plotL) / nCols, rowH = (plotB - plotT) / nRows;
function xPos(c) { return plotL + c * colW; }
function yPos(r) { return plotT + r * rowH; }
const vStops = ["#440154","#482475","#414487","#355f8d","#2a788e","#21918c","#22a884","#44bf70","#7ad151","#bddf26","#fde725"];
function hex(h){return [parseInt(h.substr(1,2),16),parseInt(h.substr(3,2),16),parseInt(h.substr(5,2),16)];}
function viridis(v){
  v = Math.max(0, Math.min(1, v));
  const p = v * 10, i = Math.min(9, Math.floor(p)), f = p - i;
  const a = hex(vStops[i]), b = hex(vStops[i+1]);
  return "rgb(" + a.map((x,k)=>Math.round(x + (b[k]-x)*f)).join(",") + ")";
}
function mk(tag, attrs, parent){
  const el = document.createElementNS(NS, tag);
  for (const k in attrs) el.setAttribute(k, attrs[k]);
  parent.appendChild(el);
  return el;
}
function approxLen(s, fs){ return s.length * fs * 0.6; }
const gCells = document.getElementById("cells");
for (let c = 0; c < nCols; c++) {
  const toks = cellTokens[c].split("|");
  const sc = cellScores[c];
  for (let r = 0; r < nRows; r++) {
    const v = (sc.charCodeAt(r) - 48) / 9;
    const rect = mk("rect", {x: xPos(c), y: yPos(r), width: colW + 0.6, height: rowH + 0.6, fill: viridis(v)}, gCells);
    
    
    const t = mk("text", {x: xPos(c) + colW/2, y: yPos(r) + rowH/2 + 3.5, "text-anchor": "middle", "font-size": "9.5", fill: "#000"}, gCells);
    
    
    t.textContent = toks[r] || "";
  }
}
const hl = mk("rect", {x: xPos(highlightCell[0]) + 1, y: yPos(highlightCell[1]) + 1, width: colW - 1, height: rowH - 1, fill: "none", stroke: "#000", "stroke-width": "2.5"}, gCells);


const frame = mk("rect", {x: plotL, y: plotT, width: plotR - plotL, height: plotB - plotT, fill: "none", stroke: "#000", "stroke-width": "1.2"}, gCells);



const gx = document.getElementById("xticks");
for (let c = 0; c < nCols; c++) {
  const cx = xPos(c) + colW/2;
  const tk = mk("line", {x1: cx, x2: cx, y1: plotT - 4, y2: plotT, stroke: "#000", "stroke-width": "1"}, gx);
  
  
  const L = approxLen(xLabels[c], 11);
  const sx = cx - L * 0.7071 - 2, sy = plotT - 7;
  const t = mk("text", {"font-size": "11", fill: "#000", x: sx, y: sy, transform: "rotate(-45 " + sx + " " + sy + ")"}, gx);
  
  
  t.textContent = xLabels[c];
}
const gy = document.getElementById("yticks");
for (let r = 0; r < nRows; r++) {
  const cy = yPos(r) + rowH/2;
  const tk = mk("line", {x1: plotL - 4, x2: plotL, y1: cy, y2: cy, stroke: "#000", "stroke-width": "1"}, gy);
  
  
  const t = mk("text", {x: plotL - 7, y: cy + 4.5, "text-anchor": "end", "font-size": "12.5", fill: "#000"}, gy);
  
  
  t.textContent = layerLabels[r];
}
const gc = document.getElementById("cbar");
const cbL = 5103, cbW = 51;
function cbY(v){ return plotB - v * (plotB - plotT); }
const nSeg = 100;
for (let i = 0; i < nSeg; i++) {
  const v0 = i / nSeg, v1 = (i + 1) / nSeg;
  const seg = mk("rect", {x: cbL, y: cbY(v1), width: cbW, height: cbY(v0) - cbY(v1) + 0.5, fill: viridis((v0 + v1) / 2)}, gc);
  
  
}
const cbf = mk("rect", {x: cbL, y: plotT, width: cbW, height: plotB - plotT, fill: "none", stroke: "#000", "stroke-width": "1"}, gc);


for (const v of colorbarTicks) {
  const y = cbY(v);
  const tk = mk("line", {x1: cbL + cbW, x2: cbL + cbW + 4, y1: y, y2: y, stroke: "#000", "stroke-width": "1"}, gc);
  
  
  const t = mk("text", {x: cbL + cbW + 7, y: y + 4, "font-size": "11", fill: "#000"}, gc);
  
  
  t.textContent = v.toFixed(1);
}
const cbt = mk("text", {x: 5186, y: 635, "text-anchor": "middle", "font-size": "11", fill: "#000", transform: "rotate(-90 5186 635)"}, gc);


cbt.textContent = "score";
</script>
</body></html>
